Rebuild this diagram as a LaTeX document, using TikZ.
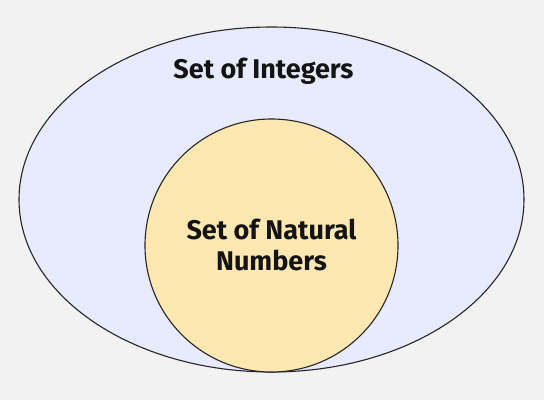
\documentclass[tikz,border=0pt]{standalone}
\usepackage{fontspec}
\setmainfont{Fira Sans}
\definecolor{bgc}{HTML}{F2F2F2}
\definecolor{outerc}{HTML}{E8EAFD}
\definecolor{innerc}{HTML}{FDE8B2}
\definecolor{txtc}{HTML}{141414}
\begin{document}
\begin{tikzpicture}[x=1pt,y=-1pt,
  setshape/.style={draw=black!85, line width=1.1pt},
  lbl/.style={text=txtc, font=\fontsize{27}{31}\selectfont\bfseries, align=center, inner sep=0pt}]
\fill[bgc] (0,0) rectangle (544,400);
\useasboundingbox (0,0) rectangle (544,400);
\draw[setshape, fill=outerc] (271.5,199.5) ellipse [x radius=252.5, y radius=172.5];
\draw[setshape, fill=innerc] (271.5,245.5) circle [radius=126.5];
\node[lbl] (integers) at (263.5,71) {Set of Integers};
\node[lbl] (natural) at (271.5,245) {Set of Natural\\Numbers};
\end{tikzpicture}
\end{document}
